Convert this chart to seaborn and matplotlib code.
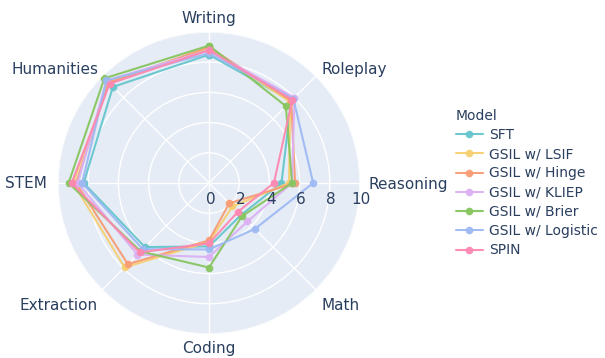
import numpy as np
import pandas as pd
import matplotlib
matplotlib.use("Agg")
import matplotlib.pyplot as plt
import seaborn as sns

categories = ["Writing", "Roleplay", "Reasoning", "Math", "Coding", "Extraction", "STEM", "Humanities"]
models = ["SFT", "GSIL w/ LSIF", "GSIL w/ Hinge", "GSIL w/ KLIEP", "GSIL w/ Brier", "GSIL w/ Logistic", "SPIN"]

sft      = [8.5, 7.7, 4.8, 3.0, 4.2, 6.0, 8.3, 9.0]
lsif     = [8.9, 7.6, 5.3, 2.2, 3.9, 7.9, 9.0, 9.4]
hinge    = [9.0, 7.7, 5.7, 1.9, 3.8, 7.6, 8.8, 9.4]
kliep    = [8.8, 8.0, 5.5, 3.6, 4.9, 6.7, 8.7, 9.6]
brier    = [9.1, 7.2, 5.5, 3.1, 5.6, 6.4, 9.3, 9.8]
logistic = [8.6, 7.9, 6.9, 4.3, 4.4, 6.2, 8.4, 9.6]
spin     = [8.8, 7.8, 4.3, 2.7, 4.0, 6.5, 9.1, 9.3]

radial_ticks = [0, 2, 4, 6, 8, 10]
series = [sft, lsif, hinge, kliep, brier, logistic, spin]
palette = ["#66C5CC", "#F6CF71", "#F89C74", "#DCB0F2", "#87C55F", "#9EB9F3", "#FE88B1"]

n = len(categories)
angles = np.arange(n) * 2 * np.pi / n
rows = []
for m, vals in zip(models, series):
    for i in range(n + 1):
        k = i % n
        rows.append({"Model": m, "theta": angles[k] + (2 * np.pi if i == n else 0), "r": vals[k]})
df = pd.DataFrame(rows)

sns.set_style("white")
plt.rcParams["font.family"] = ["DejaVu Sans"]
text_color = "#2a3f5f"

W, H = 605, 358
fig = plt.figure(figsize=(W / 100, H / 100), dpi=100)
cx, cy, R = 209, 183, 151
ax = fig.add_axes([(cx - R) / W, (H - cy - R) / H, 2 * R / W, 2 * R / H], projection="polar")
ax.set_theta_zero_location("N")
ax.set_theta_direction(-1)
ax.set_facecolor("#E5ECF6")
ax.spines["polar"].set_visible(False)

sns.lineplot(data=df, x="theta", y="r", hue="Model", hue_order=models, palette=palette,
             sort=False, estimator=None, marker="o", markersize=5.5, markeredgewidth=0,
             linewidth=1.5, ax=ax, alpha=0.95)

ax.set_ylim(0, 10)
ax.set_yticks(radial_ticks[1:])
ax.set_yticklabels([])
ax.set_xticks(angles)
ax.set_xticklabels([])
ax.set_xlabel("")
ax.set_ylabel("")
ax.grid(True, color="white", linewidth=1)
ax.tick_params(length=0)

# angular labels
fs = 11
offsets = {
    "Writing": ((0, 10), "center", "center"),
    "Roleplay": ((4, 4.5), "left", "center"),
    "Reasoning": ((6, -1), "left", "center"),
    "Math": ((4, -11), "left", "center"),
    "Coding": ((0, -10.5), "center", "center"),
    "Extraction": ((-3, -11), "right", "center"),
    "STEM": ((-8, 0), "right", "center"),
    "Humanities": ((-3, 4.5), "right", "center"),
}
for ang, cat in zip(angles, categories):
    off, ha, va = offsets[cat]
    ax.annotate(cat, xy=(ang, 10), xytext=off, textcoords="offset points",
                ha=ha, va=va, fontsize=fs, color=text_color, annotation_clip=False)

# radial tick labels along the east axis
for t in radial_ticks:
    ax.annotate(str(t), xy=(np.pi / 2, t), xytext=(1, -12), textcoords="offset points",
                ha="center", va="center", fontsize=fs, color=text_color, annotation_clip=False)

handles, labels = ax.get_legend_handles_labels()
if ax.get_legend() is not None:
    ax.get_legend().remove()
leg = fig.legend(handles, labels, title="Model", loc="upper left",
                 bbox_to_anchor=(450 / W, 1 - 103 / H), frameon=False,
                 fontsize=10, title_fontsize=10, handlelength=2.0, handletextpad=0.4,
                 labelspacing=0.38, borderaxespad=0)
leg._legend_box.align = "left"
for txt in leg.get_texts():
    txt.set_color(text_color)
leg.get_title().set_color(text_color)

fig.savefig("out.png", dpi=100)
